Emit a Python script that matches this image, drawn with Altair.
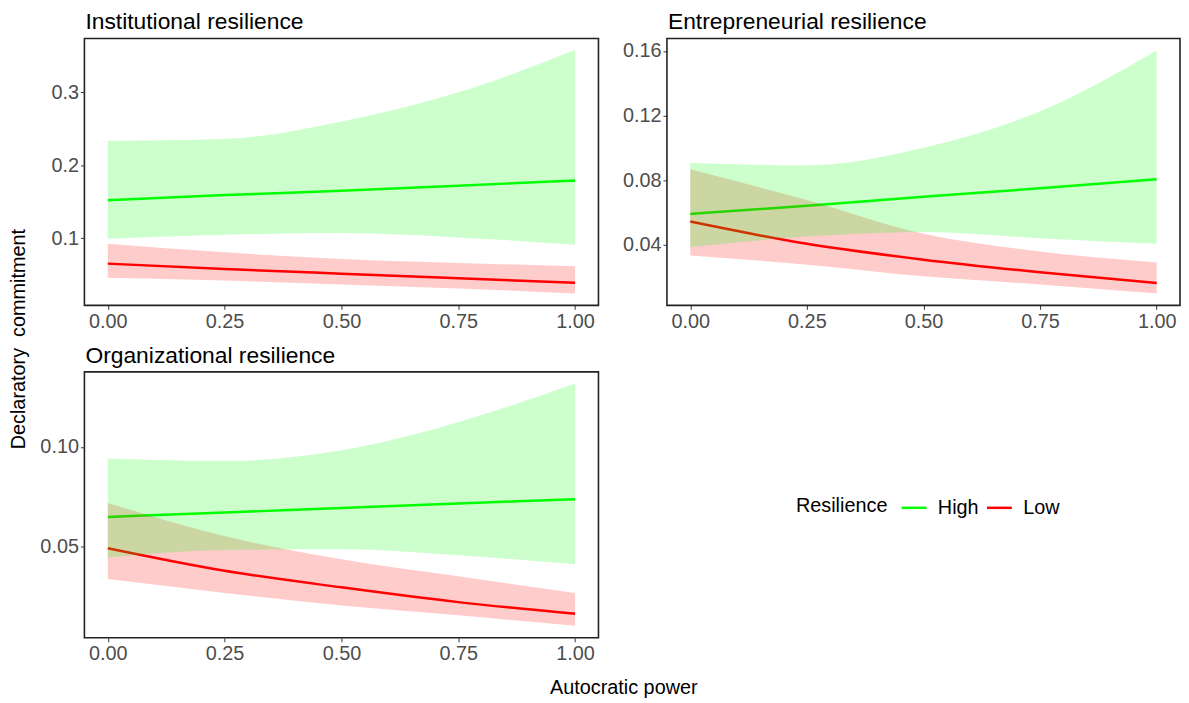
import altair as alt
import pandas as pd

FONT = "Liberation Sans"

x_vals = [0.0, 0.25, 0.5, 0.75, 1.0]
x_ticks = [0.0, 0.25, 0.5, 0.75, 1.0]
panel_names = ["Institutional resilience", "Entrepreneurial resilience", "Organizational resilience"]
group_names = ["High", "Low"]
group_colors = ["#00FF00", "#FF0000"]

# Institutional resilience
inst_high_fit = [0.152, 0.159, 0.165, 0.172, 0.179]
inst_high_lo = [0.099, 0.1045, 0.107, 0.101, 0.091]
inst_high_hi = [0.2336, 0.236, 0.260, 0.300, 0.358]
inst_low_fit = [0.065, 0.0577, 0.0512, 0.0448, 0.0386]
inst_low_lo = [0.0455, 0.0418, 0.0364, 0.031, 0.0241]
inst_low_hi = [0.0923, 0.0805, 0.0714, 0.066, 0.0614]

# Entrepreneurial resilience
entr_high_fit = [0.0591, 0.0642, 0.0697, 0.0750, 0.0806]
entr_high_lo = [0.0386, 0.0451, 0.0480, 0.0441, 0.0406]
entr_high_hi = [0.0907, 0.0892, 0.1001, 0.1227, 0.1604]
entr_low_fit = [0.0544, 0.0406, 0.0308, 0.0230, 0.0164]
entr_low_lo = [0.0334, 0.0277, 0.0205, 0.0154, 0.0098]
entr_low_hi = [0.0868, 0.0677, 0.0468, 0.0359, 0.0291]

# Organizational resilience
org_high_fit = [0.0649, 0.0671, 0.0694, 0.0716, 0.0738]
org_high_lo = [0.0445, 0.0483, 0.0487, 0.0457, 0.0412]
org_high_hi = [0.0942, 0.0929, 0.0983, 0.1124, 0.1318]
org_low_fit = [0.0492, 0.0379, 0.0296, 0.0222, 0.0164]
org_low_lo = [0.0338, 0.0268, 0.0205, 0.0156, 0.0103]
org_low_hi = [0.0719, 0.0553, 0.0437, 0.0351, 0.0268]

y_ticks_inst = [0.1, 0.2, 0.3]
y_ticks_entr = [0.04, 0.08, 0.12, 0.16]
y_ticks_org = [0.05, 0.10]

y_title_text = "Declaratory\u00a0 commitment"
x_title_text = "Autocratic power"
legend_title = "Resilience"

series = {
    ("Institutional resilience", "High"): (inst_high_fit, inst_high_lo, inst_high_hi),
    ("Institutional resilience", "Low"): (inst_low_fit, inst_low_lo, inst_low_hi),
    ("Entrepreneurial resilience", "High"): (entr_high_fit, entr_high_lo, entr_high_hi),
    ("Entrepreneurial resilience", "Low"): (entr_low_fit, entr_low_lo, entr_low_hi),
    ("Organizational resilience", "High"): (org_high_fit, org_high_lo, org_high_hi),
    ("Organizational resilience", "Low"): (org_low_fit, org_low_lo, org_low_hi),
}

rows = []
for (panel, group), (fit, lo, hi) in series.items():
    for i, xv in enumerate(x_vals):
        rows.append({"panel": panel, "group": group, "x": xv,
                     "fit": fit[i], "lo": lo[i], "hi": hi[i]})
df = pd.DataFrame(rows)

legend = alt.Legend(
    title=legend_title, orient="none", legendX=717, legendY=459,
    direction="horizontal", titleOrient="left", symbolType="stroke",
    symbolSize=625, symbolStrokeWidth=2.5, labelFontSize=20, titleFontSize=20,
    titleFontWeight="normal", labelOffset=10, titlePadding=12, columnPadding=2,
    labelColor="black", titleColor="black", labelFont=FONT, titleFont=FONT,
)


def panel(name, width, height, ydomain, yticks, yfmt, show_xtitle, show_ytitle):
    base = alt.Chart(df).transform_filter(alt.datum.panel == name)
    if show_xtitle:
        xaxis = alt.Axis(values=x_ticks, format=".2f", title=x_title_text,
                         titleX=543, titleY=56, titleBaseline="alphabetic",
                         titleAlign="center", titleAngle=0,
                         titleFontSize=20, titleFontWeight="normal",
                         titleColor="black", titleFont=FONT,
                         labelFlush=False)
    else:
        xaxis = alt.Axis(values=x_ticks, format=".2f", title=None, labelFlush=False)
    if show_ytitle:
        yaxis = alt.Axis(values=yticks, format=yfmt, title=y_title_text,
                         titleX=-60, titleY=302.5, titleAngle=270,
                         titleAlign="center", titleBaseline="alphabetic",
                         titleFontSize=20, titleFontWeight="normal",
                         titleColor="black", titleFont=FONT, labelFlush=False)
    else:
        yaxis = alt.Axis(values=yticks, format=yfmt, title=None, labelFlush=False)
    X = alt.X("x:Q", scale=alt.Scale(domain=[-0.05, 1.05], nice=False, zero=False), axis=xaxis)
    yscale = alt.Scale(domain=ydomain, nice=False, zero=False)
    lines = base.mark_line(interpolate="monotone", strokeWidth=2.5).encode(
        x=X,
        y=alt.Y("fit:Q", scale=yscale, axis=yaxis),
        color=alt.Color("group:N", scale=alt.Scale(domain=group_names, range=group_colors), legend=legend),
    )
    band_low = base.transform_filter(alt.datum.group == "Low").mark_area(
        interpolate="monotone", color=group_colors[1], opacity=0.2
    ).encode(x=X, y=alt.Y("lo:Q", scale=yscale, axis=yaxis), y2="hi:Q")
    band_high = base.transform_filter(alt.datum.group == "High").mark_area(
        interpolate="monotone", color=group_colors[0], opacity=0.2
    ).encode(x=X, y=alt.Y("lo:Q", scale=yscale, axis=yaxis), y2="hi:Q")
    title_mark = alt.Chart(pd.DataFrame({"t": [name]})).mark_text(
        align="left", baseline="alphabetic", fontSize=23, font=FONT, color="black"
    ).encode(text="t:N", x=alt.value(1), y=alt.value(-9))
    return alt.layer(lines, band_low, band_high, title_mark).properties(
        width=width, height=height,
        view=alt.ViewBackground(stroke="#222222", strokeWidth=1.6),
    )


p1 = panel(panel_names[0], 518, 269, [0.0077, 0.374], y_ticks_inst, ".1f", False, True)
p2 = panel(panel_names[1], 517, 269, [0.0025, 0.1678], y_ticks_entr, ".2f", False, False)
p3 = panel(panel_names[2], 518, 268, [0.0043, 0.1376], y_ticks_org, ".2f", True, False)

chart = alt.concat(
    p1, p2, p3, columns=2, bounds="flush",
    spacing=alt.RowColnumber(row=67, column=69),
).properties(
    padding=0,
).configure_view(
    strokeWidth=0
).configure_axis(
    grid=False, domain=False, tickColor="#333333", tickSize=4, tickWidth=1,
    labelColor="#4D4D4D", labelFontSize=20, labelFont=FONT, labelPadding=2,
)

chart.save("out.html", embed_options={"renderer": "svg", "actions": False})
